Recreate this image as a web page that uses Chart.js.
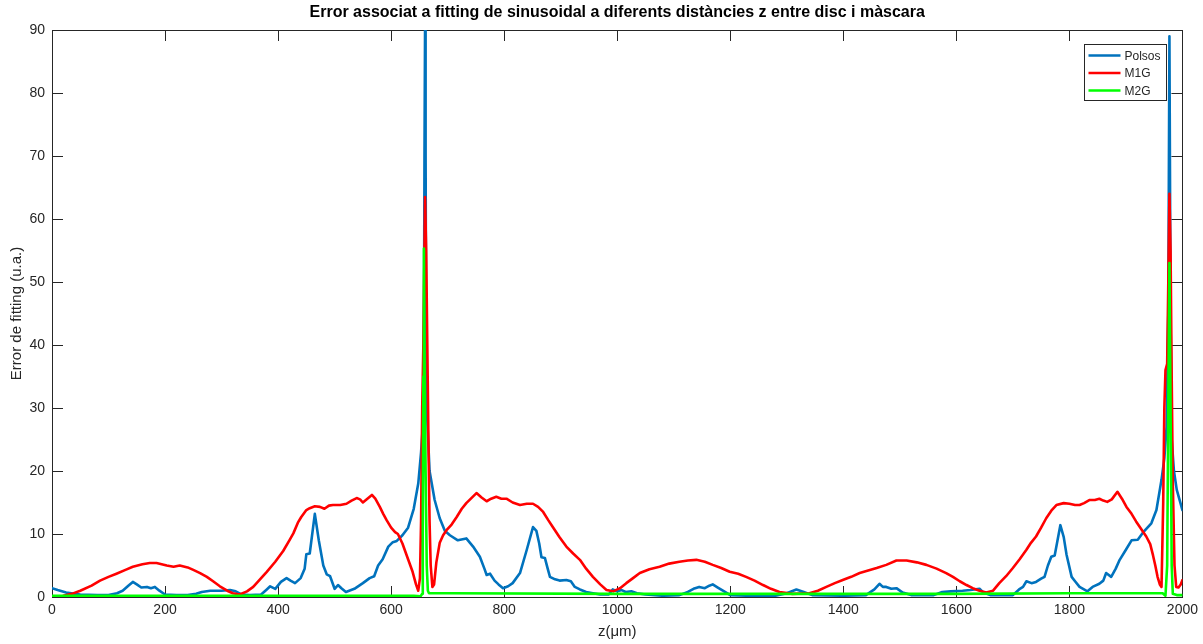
<!DOCTYPE html>
<html>
<head>
<meta charset="utf-8">
<title>Error de fitting</title>
<script src="https://cdn.jsdelivr.net/npm/chart.js@4.4.1/dist/chart.umd.min.js"></script>
<style>
  html, body { margin: 0; padding: 0; background: #fff; }
  #wrap { width: 1203px; height: 644px; }
</style>
</head>
<body>
<div id="wrap"><canvas id="errChart" width="1203" height="644"></canvas></div>
<script>
// z in um, fitting error in u.a.
const polsosZ = [0, 10, 25, 50, 80, 100, 115, 125, 135, 143, 150, 158, 168, 175, 182, 190, 200, 220, 240, 255,
  265, 280, 300, 315, 325, 335, 350, 370, 380, 386, 395, 405, 415, 422, 430, 440, 447, 450, 456, 465,
  472, 480, 486, 492, 500, 506, 512, 520, 535, 550, 562, 570, 577, 585, 595, 603, 610, 620, 630, 640,
  648, 653, 656, 658, 659, 660, 661, 662, 664, 668, 677, 686, 695, 704, 718, 733, 745, 757, 765, 769,
  775, 783, 790, 798, 807, 815, 828, 840, 851, 857, 862, 866, 872, 877, 881, 890, 898, 910, 918, 925,
  934, 945, 957, 970, 985, 992, 1000, 1008, 1015, 1025, 1035, 1050, 1080, 1110, 1125, 1135, 1145, 1155, 1163, 1169,
  1178, 1187, 1200, 1230, 1280, 1300, 1317, 1330, 1345, 1400, 1440, 1455, 1464, 1470, 1476, 1485, 1494, 1505, 1520, 1560,
  1575, 1590, 1611, 1625, 1641, 1648, 1660, 1700, 1711, 1718, 1724, 1733, 1741, 1750, 1756, 1762, 1768, 1774, 1784, 1790,
  1795, 1804, 1810, 1818, 1832, 1841, 1853, 1860, 1865, 1874, 1882, 1889, 1900, 1910, 1921, 1930, 1945, 1954, 1963, 1968,
  1972, 1975, 1977, 1979, 1981, 1985, 1990, 2000];
const polsosErr = [1.4, 1.1, 0.7, 0.4, 0.3, 0.3, 0.6, 1.0, 1.8, 2.4, 2.0, 1.5, 1.6, 1.4, 1.6, 1.0, 0.4, 0.3, 0.3, 0.5,
  0.8, 1.0, 1.0, 1.1, 0.9, 0.4, 0.3, 0.4, 1.2, 1.7, 1.3, 2.4, 3.0, 2.6, 2.2, 3.0, 4.5, 6.8, 6.9, 13.2,
  9.0, 5.0, 3.6, 3.3, 1.3, 1.9, 1.4, 0.8, 1.3, 2.2, 3.0, 3.3, 5.0, 6.0, 8.0, 8.7, 8.9, 9.8, 11.0, 14.0,
  18.0, 23.0, 27.0, 40, 70, 90, 70, 40, 28, 20, 15.4, 12.5, 10.5, 9.8, 9.0, 9.3, 8.0, 6.4, 4.5, 3.5,
  3.7, 2.6, 2.0, 1.4, 1.7, 2.2, 3.8, 7.5, 11.1, 10.5, 8.5, 6.3, 6.2, 4.5, 3.2, 2.8, 2.6, 2.7, 2.5, 1.6,
  1.2, 0.8, 0.6, 0.4, 0.4, 1.2, 0.9, 1.1, 0.8, 0.9, 0.6, 0.4, 0.2, 0.3, 0.8, 1.3, 1.6, 1.4, 1.8, 2.0,
  1.5, 1.0, 0.3, 0.2, 0.2, 0.6, 1.2, 0.8, 0.3, 0.2, 0.3, 1.2, 2.1, 1.6, 1.6, 1.3, 1.4, 0.7, 0.3, 0.3,
  0.8, 0.9, 1.0, 1.1, 1.3, 0.7, 0.3, 0.3, 1.2, 1.6, 2.5, 2.2, 2.4, 2.9, 3.2, 5.0, 6.4, 6.6, 11.4, 9.5,
  6.7, 3.2, 2.5, 1.6, 0.9, 1.6, 2.1, 2.6, 3.8, 3.2, 4.5, 5.9, 7.5, 9.0, 9.1, 10.2, 11.7, 13.8, 18.6, 22,
  27, 45, 89, 45, 25, 20, 17, 13.8];

const m1gZ = [20, 35, 50, 70, 85, 100, 114, 130, 143, 160, 173, 185, 203, 215, 226, 240, 250, 262, 274, 285,
  297, 310, 320, 332, 345, 356, 368, 380, 395, 409, 420, 427, 435, 441, 450, 456, 465, 474, 482, 490,
  497, 510, 521, 530, 539, 545, 550, 558, 566, 572, 580, 586, 592, 600, 607, 612, 620, 630, 638, 644,
  648, 651, 653, 655, 657, 659, 660, 662, 664, 666, 668, 670, 673, 676, 680, 686, 692, 698, 707, 716,
  725, 733, 742, 751, 760, 769, 777, 786, 795, 804, 815, 828, 840, 851, 860, 869, 878, 886, 898, 910,
  922, 934, 945, 957, 970, 981, 993, 1005, 1016, 1028, 1040, 1057, 1075, 1092, 1110, 1125, 1140, 1155, 1169, 1184,
  1199, 1214, 1228, 1243, 1258, 1272, 1287, 1310, 1340, 1355, 1370, 1385, 1399, 1414, 1429, 1444, 1459, 1476, 1494, 1512,
  1530, 1547, 1565, 1582, 1594, 1606, 1618, 1629, 1641, 1653, 1665, 1676, 1688, 1700, 1712, 1724, 1732, 1741, 1750, 1759,
  1768, 1777, 1790, 1800, 1810, 1818, 1826, 1836, 1845, 1853, 1860, 1867, 1875, 1885, 1893, 1901, 1910, 1918, 1927, 1936,
  1943, 1948, 1952, 1956, 1960, 1963, 1966, 1968, 1970, 1973, 1975, 1977, 1979, 1981, 1983, 1986, 1989, 1993, 1997, 2000];
const m1gErr = [0.2, 0.5, 1.0, 1.8, 2.6, 3.2, 3.7, 4.3, 4.8, 5.2, 5.4, 5.4, 5.0, 4.8, 5.0, 4.7, 4.3, 3.8, 3.2, 2.5,
  1.7, 1.0, 0.6, 0.4, 0.9, 1.6, 2.8, 4.0, 5.6, 7.3, 9.0, 10.1, 11.8, 12.7, 13.8, 14.1, 14.4, 14.3, 14.0, 14.5,
  14.6, 14.6, 14.8, 15.3, 15.7, 15.5, 15.0, 15.6, 16.2, 15.6, 14.3, 13.2, 12.2, 11.0, 10.3, 10.0, 8.5, 6.0, 4.0, 2.0,
  1.0, 3, 12, 30, 40, 55, 63.5, 55, 40, 25, 12, 5, 1.6, 2.0, 5.5, 8.6, 9.8, 10.6, 11.5, 12.7,
  14.0, 14.9, 15.7, 16.5, 15.8, 15.2, 15.6, 15.9, 15.6, 15.6, 15.0, 14.6, 14.8, 14.8, 14.3, 13.5, 12.2, 11.1, 9.5, 8.0,
  6.9, 5.9, 4.5, 3.2, 2.0, 1.1, 0.9, 1.4, 2.2, 3.0, 3.8, 4.4, 4.8, 5.3, 5.6, 5.8, 5.9, 5.6, 5.1, 4.6,
  4.0, 3.7, 3.2, 2.6, 1.9, 1.3, 0.8, 0.5, 0.6, 1.0, 1.6, 2.2, 2.7, 3.2, 3.8, 4.2, 4.6, 5.1, 5.8, 5.8,
  5.5, 5.1, 4.5, 3.8, 3.2, 2.5, 1.9, 1.4, 1.0, 0.7, 1.0, 2.2, 3.3, 4.6, 6.0, 7.5, 8.6, 9.6, 11.0, 12.5,
  13.7, 14.6, 14.9, 14.8, 14.6, 14.6, 14.9, 15.4, 15.4, 15.6, 15.3, 15.1, 15.5, 16.7, 15.6, 14.3, 13.2, 12.0, 10.8, 9.6,
  8.4, 6.6, 5.0, 3.2, 2.0, 1.6, 15, 30, 36, 37, 50, 64, 55, 35, 18, 5, 1.6, 1.5, 2.0, 2.7];

const m2gZ = [0, 100, 300, 500, 640, 652, 655, 656, 657, 658, 659, 661, 663, 665, 667, 700, 1000, 1200, 1400, 1600,
  1800, 1965, 1970, 1973, 1975, 1977, 1979, 1981, 1983, 1990, 2000];
const m2gErr = [0.2, 0.2, 0.2, 0.2, 0.2, 0.1, 0.5, 10, 35, 55.3, 40, 20, 5, 1.0, 0.6, 0.6, 0.5, 0.5, 0.5, 0.5,
  0.6, 0.6, 0.2, 5, 30, 53, 30, 5, 0.5, 0.3, 0.3];

const zTicks = [0, 200, 400, 600, 800, 1000, 1200, 1400, 1600, 1800, 2000];
const errTicks = [0, 10, 20, 30, 40, 50, 60, 70, 80, 90];

const FONT = '"Liberation Sans", Arial, Helvetica, sans-serif';
const AXIS_COLOR = '#262626';
const LINE_W = 2.6;

const pairs = (xs, ys) => xs.map((x, i) => ({ x: x, y: ys[i] }));

// box round the axes, with ticks pointing inwards on all four sides
const boxAxes = {
  id: 'boxAxes',
  beforeDatasetsDraw(chart) {
    const { ctx, chartArea: a, scales } = chart;
    const len = 11;
    ctx.save();
    ctx.strokeStyle = AXIS_COLOR;
    ctx.lineWidth = 1;
    ctx.beginPath();
    scales.x.ticks.forEach(t => {
      const px = Math.round(scales.x.getPixelForValue(t.value)) + 0.5;
      ctx.moveTo(px, a.bottom); ctx.lineTo(px, a.bottom - len);
      ctx.moveTo(px, a.top); ctx.lineTo(px, a.top + len);
    });
    scales.y.ticks.forEach(t => {
      const py = Math.round(scales.y.getPixelForValue(t.value)) + 0.5;
      ctx.moveTo(a.left, py); ctx.lineTo(a.left + len, py);
      ctx.moveTo(a.right, py); ctx.lineTo(a.right - len, py);
    });
    ctx.stroke();
    ctx.strokeRect(Math.round(a.left) + 0.5, Math.round(a.top) + 0.5,
      Math.round(a.right - a.left), Math.round(a.bottom - a.top));
    ctx.restore();
  }
};

// title over the axes and the legend box in the top right corner
const decorations = {
  id: 'decorations',
  afterDatasetsDraw(chart) {
    const { ctx, chartArea: a } = chart;
    ctx.save();
    ctx.fillStyle = '#000';
    ctx.font = 'bold 16px ' + FONT;
    ctx.textAlign = 'center';
    ctx.textBaseline = 'middle';
    ctx.fillText('Error associat a fitting de sinusoidal a diferents distàncies z entre disc i màscara',
      (a.left + a.right) / 2, 13);

    const boxW = 82, boxH = 56;
    const bx = Math.round(a.right - 16 - boxW) + 0.5;
    const by = Math.round(a.top + 14) + 0.5;
    ctx.fillStyle = '#fff';
    ctx.fillRect(bx, by, boxW, boxH);
    ctx.strokeStyle = AXIS_COLOR;
    ctx.lineWidth = 1;
    ctx.strokeRect(bx, by, boxW, boxH);

    ctx.font = '12px ' + FONT;
    ctx.textAlign = 'left';
    chart.data.datasets.forEach((ds, i) => {
      const y = by + 11 + i * 17.5;
      ctx.strokeStyle = ds.borderColor;
      ctx.lineWidth = LINE_W;
      ctx.beginPath();
      ctx.moveTo(bx + 4, y);
      ctx.lineTo(bx + 36, y);
      ctx.stroke();
      ctx.fillStyle = '#262626';
      ctx.fillText(ds.label, bx + 40, y + 1);
    });
    ctx.restore();
  }
};

new Chart(document.getElementById('errChart'), {
  type: 'line',
  data: {
    datasets: [
      { label: 'Polsos', data: pairs(polsosZ, polsosErr), borderColor: '#0072BD', order: 3 },
      { label: 'M1G', data: pairs(m1gZ, m1gErr), borderColor: '#FF0000', order: 2 },
      { label: 'M2G', data: pairs(m2gZ, m2gErr), borderColor: '#00FF00', order: 1 }
    ]
  },
  options: {
    responsive: false,
    animation: false,
    layout: { autoPadding: false, padding: { top: 30, right: 20, left: 0, bottom: 0 } },
    elements: {
      point: { radius: 0 },
      line: { borderWidth: LINE_W, tension: 0, borderJoinStyle: 'round', borderCapStyle: 'round' }
    },
    plugins: {
      legend: { display: false },
      title: { display: false },
      tooltip: { enabled: false }
    },
    scales: {
      x: {
        type: 'linear',
        min: 0,
        max: 2000,
        afterBuildTicks: s => { s.ticks = zTicks.map(v => ({ value: v })); },
        afterFit: s => { s.height = 47; },
        grid: { display: false, drawTicks: false },
        border: { display: false },
        ticks: {
          color: AXIS_COLOR, font: { family: FONT, size: 14 }, padding: 5, maxRotation: 0,
          callback: v => String(v)
        },
        title: {
          display: true,
          text: 'z(μm)',
          color: AXIS_COLOR,
          font: { family: FONT, size: 15 },
          padding: { top: 4, bottom: 3 }
        }
      },
      y: {
        type: 'linear',
        min: 0,
        max: 90,
        afterBuildTicks: s => { s.ticks = errTicks.map(v => ({ value: v })); },
        afterFit: s => { s.width = 52; },
        grid: { display: false, drawTicks: false },
        border: { display: false },
        ticks: {
          color: AXIS_COLOR, font: { family: FONT, size: 14 }, padding: 7,
          callback: v => String(v)
        },
        title: {
          display: true,
          text: 'Error de fitting (u.a.)',
          color: AXIS_COLOR,
          font: { family: FONT, size: 15 },
          padding: { top: 8, bottom: 4 }
        }
      }
    }
  },
  plugins: [boxAxes, decorations]
});
</script>
</body>
</html>
